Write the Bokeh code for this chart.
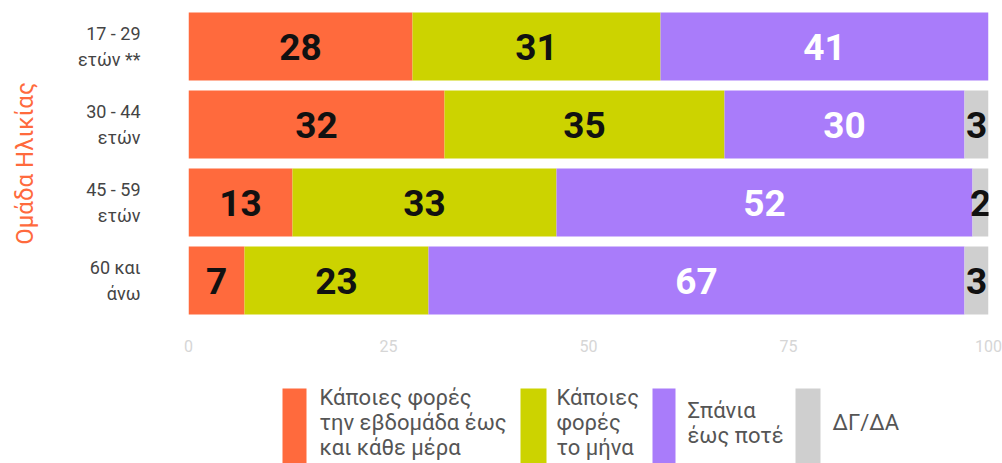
from bokeh.plotting import figure
from bokeh.models import FactorRange, Range1d, FixedTicker, ColumnDataSource
from bokeh.layouts import column
from bokeh.core.properties import value
from bokeh.embed import file_html
from bokeh.resources import INLINE

# ---- data ----
age_groups = ["17 - 29\nετών **", "30 - 44\nετών", "45 - 59\nετών", "60 και\nάνω"]
weekly = [28, 32, 13, 7]
monthly = [31, 35, 33, 23]
rarely = [41, 30, 52, 67]
dk_na = [0, 3, 2, 3]
series_keys = ["weekly", "monthly", "rarely", "dk_na"]
legend_labels = ["Κάποιες φορές\nτην εβδομάδα έως\nκαι κάθε μέρα",
                 "Κάποιες\nφορές\nτο μήνα",
                 "Σπάνια\nέως ποτέ",
                 "ΔΓ/ΔΑ"]
x_ticks = [0, 25, 50, 75, 100]
y_title = "Ομάδα Ηλικίας"

# ---- styles ----
colors = ["#FF6A3D", "#CCD300", "#A97CFA", "#CFCFCF"]
label_colors = ["#111111", "#111111", "#FFFFFF", "#111111"]
FONT = "Roboto"

data = dict(age=age_groups, weekly=weekly, monthly=monthly, rarely=rarely, dk_na=dk_na)
source = ColumnDataSource(data)

p = figure(y_range=FactorRange(factors=list(reversed(age_groups))),
           x_range=Range1d(0, 100),
           frame_width=800, frame_height=312,
           min_border_left=188, min_border_right=14, min_border_top=7, min_border_bottom=36,
           output_backend="svg", toolbar_location=None)

p.hbar_stack(series_keys, y="age", height=0.872, color=colors, line_color=None, source=source)

# value labels
xs, ys, ts, cs = [], [], [], []
for i, age in enumerate(age_groups):
    vals = [weekly[i], monthly[i], rarely[i], dk_na[i]]
    left = 0
    for j, v in enumerate(vals):
        if v > 0:
            xs.append(left + v / 2)
            ys.append(age)
            ts.append(str(v))
            cs.append(label_colors[j])
        left += v
p.text(x=xs, y=ys, text=ts, text_color=cs, text_align="center", text_baseline="middle",
       text_font=value(FONT), text_font_style="bold", text_font_size="37px")

p.xgrid.visible = False
p.ygrid.visible = False
p.outline_line_color = None

xa = p.xaxis[0]
xa.ticker = FixedTicker(ticks=x_ticks)
xa.axis_line_color = None
xa.major_tick_line_color = None
xa.minor_tick_line_color = None
xa.major_label_text_color = "#D6D6D6"
xa.major_label_text_font = FONT
xa.major_label_text_font_size = "16px"
xa.major_label_standoff = 14

ya = p.yaxis[0]
ya.axis_line_color = None
ya.major_tick_line_color = None
ya.minor_tick_line_color = None
ya.major_label_text_color = "#444444"
ya.major_label_text_font = FONT
ya.major_label_text_font_size = "18px"
ya.major_label_standoff = 42
ya.axis_label = y_title
ya.axis_label_text_color = "#FF6A3D"
ya.axis_label_text_font = FONT
ya.axis_label_text_font_style = "normal"
ya.axis_label_text_font_size = "24px"
ya.axis_label_standoff = 36

# ---- legend figure (coordinates in page pixels) ----
lg = figure(frame_width=800, frame_height=108, x_range=Range1d(188, 988), y_range=Range1d(463, 355),
            min_border_left=188, min_border_right=14, min_border_top=0, min_border_bottom=0,
            output_backend="svg", toolbar_location=None)
lg.xaxis.visible = False
lg.yaxis.visible = False
lg.xgrid.visible = False
lg.ygrid.visible = False
lg.outline_line_color = None

swatch_left = [282, 520, 652, 795]
swatch_w = [24, 26, 23, 25]
text_left = [319, 556, 687, 832]
center_y = 422
line_gap = 25
lg.quad(left=swatch_left, right=[a + b for a, b in zip(swatch_left, swatch_w)],
        top=[388] * 4, bottom=[480] * 4, color=colors, line_color=None)
lx, ly, lt = [], [], []
for k, lab in enumerate(legend_labels):
    lines = lab.split("\n")
    n = len(lines)
    for i, ln in enumerate(lines):
        lx.append(text_left[k])
        ly.append(center_y + (i - (n - 1) / 2) * line_gap)
        lt.append(ln)
lg.text(x=lx, y=ly, text=lt, text_align="left", text_baseline="middle",
        text_font=value(FONT), text_font_size="22px", text_color="#555555")

layout = column(p, lg, spacing=0)
open("out.html", "w").write(file_html(layout, INLINE))
